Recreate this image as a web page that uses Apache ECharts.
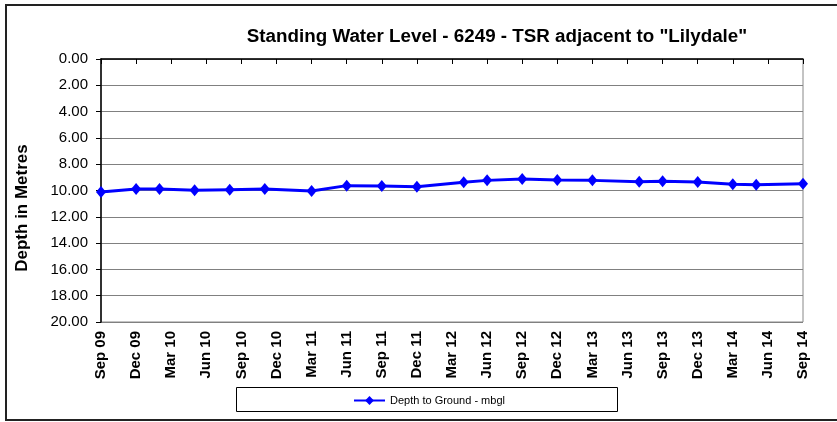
<!DOCTYPE html>
<html>
<head>
<meta charset="utf-8">
<script src="https://cdn.jsdelivr.net/npm/echarts@6/dist/echarts.min.js"></script>
<style>html,body{margin:0;padding:0;background:#fff;}#c{width:837px;height:422px;}</style>
</head>
<body>
<div id="c"></div>
<script>
const titleText = 'Standing Water Level - 6249 - TSR adjacent to "Lilydale"';
const seriesName = 'Depth to Ground - mbgl';
const yAxisName = 'Depth in Metres';
const sampleDates = ['2009-09','2009-12','2010-02','2010-05','2010-08','2010-11','2011-03','2011-06','2011-09','2011-12','2012-04','2012-06','2012-09','2012-12','2013-03','2013-07','2013-09','2013-12','2014-03','2014-05','2014-09'];
const depths = [10.11, 9.89, 9.89, 9.99, 9.94, 9.89, 10.04, 9.63, 9.66, 9.71, 9.38, 9.23, 9.13, 9.20, 9.23, 9.33, 9.30, 9.35, 9.53, 9.56, 9.48];
const monthNames = ['Jan','Feb','Mar','Apr','May','Jun','Jul','Aug','Sep','Oct','Nov','Dec'];
const startYear = 2009, startMonth = 9;

function monthOffset(s){
  const [y,m] = s.split('-').map(Number);
  return (y - startYear) * 12 + (m - startMonth);
}
function labelFor(off){
  const total = startMonth - 1 + off;
  const y = startYear + Math.floor(total / 12);
  const m = total % 12;
  return monthNames[m] + ' ' + String(y % 100).padStart(2,'0');
}
const data = sampleDates.map((d,i)=>[monthOffset(d), depths[i]]);

const chart = echarts.init(document.getElementById('c'));
chart.setOption({
  animation:false,
  backgroundColor:'#fff',
  title:{text:titleText,left:492,top:22,textAlign:'center',
    textStyle:{fontFamily:'Liberation Sans',fontSize:18.8,fontWeight:'bold',color:'#000'}},
  grid:{left:101,right:34,top:59,bottom:100,show:true,borderColor:'#888',borderWidth:1,backgroundColor:'#fff'},
  legend:{data:[seriesName],left:348,top:390,itemWidth:31,itemHeight:11,itemGap:3,
    textStyle:{fontFamily:'Liberation Sans',fontSize:11,color:'#000'}},
  xAxis:{type:'value',min:0,max:60,interval:3,
    axisLine:{lineStyle:{color:'#000',width:1.5}},
    axisTick:{show:true,length:5,lineStyle:{color:'#000'}},
    splitLine:{show:false},
    axisLabel:{rotate:90,formatter:v=>labelFor(v),fontFamily:'Liberation Sans',fontSize:15,fontWeight:'bold',color:'#000',margin:9}},
  yAxis:{type:'value',inverse:true,min:0,max:20,interval:2,
    axisLine:{show:true,lineStyle:{color:'#000',width:1.5}},
    axisTick:{show:true,length:5,lineStyle:{color:'#000'}},
    splitLine:{show:true,lineStyle:{color:'#808080',width:1}},
    axisLabel:{formatter:v=>v.toFixed(2),fontFamily:'Liberation Sans',fontSize:15,color:'#000',margin:13}},
  series:[{name:seriesName,type:'line',data:data,symbol:'diamond',symbolSize:[10,12],
    lineStyle:{color:'#0000ff',width:3},itemStyle:{color:'#0000ff'}}],
  graphic:[
    {type:'rect',shape:{x:6,y:5,width:840,height:415},style:{fill:'none',stroke:'#222',lineWidth:2},silent:true,z:-1},
    {type:'rect',shape:{x:236.5,y:387.5,width:381,height:24},style:{fill:'#fff',stroke:'#000',lineWidth:1},silent:true,z:-1},
    {type:'text',x:22,y:208,rotation:Math.PI/2,
      style:{text:yAxisName,font:'bold 17px "Liberation Sans"',fill:'#000',textAlign:'center',textVerticalAlign:'middle'},silent:true}
  ]
});
</script>
</body>
</html>
